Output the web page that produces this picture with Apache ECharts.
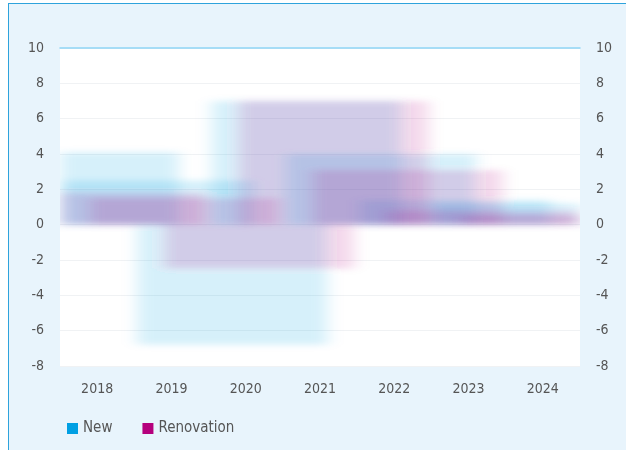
<!DOCTYPE html>
<html>
<head>
<meta charset="utf-8">
<script src="https://cdn.jsdelivr.net/npm/echarts@6/dist/echarts.min.js"></script>
<style>
  html, body { margin: 0; padding: 0; background: #fff; }
  #frame { position: absolute; left: 8px; top: 3px; width: 640px; height: 460px;
           background: #e8f4fc; border-left: 1px solid #2ea3dc; border-top: 1px solid #2ea3dc; }
  .layer { position: absolute; left: 0; top: 0; width: 626px; height: 450px; }
  /* bars are drawn softened, only inside the plot area */
  #bars { filter: url(#soft); clip-path: inset(48px 46px 84px 60px); }
</style>
</head>
<body>
<svg width="0" height="0" style="position:absolute">
  <filter id="soft" x="-10%" y="-10%" width="120%" height="120%">
    <feGaussianBlur stdDeviation="8 3"/>
  </filter>
</svg>
<div id="frame"></div>
<div id="main" class="layer"></div>
<div id="bars" class="layer"></div>
<script>
{
    // years on the x axis
    const years = ['2018', '2019', '2020', '2021', '2022', '2023', '2024'];
    // values
    const newValues = [4.1, 2.5, -6.8, 7.0, 4.0, 1.4, 1.2];
    const renovationValues = [1.8, 1.5, -2.5, 7.0, 3.1, 0.8, 0.5];

    const font = "'DejaVu Sans Condensed', 'Liberation Sans Narrow', sans-serif";
    const labelStyle = { color: '#555', fontSize: 14, fontFamily: font };
    const grid = { left: 60, right: 46, top: 48, bottom: 84 };

    // axes, grid and legend
    const axisChart = echarts.init(document.querySelector('#main'));
    axisChart.setOption({
        animation: false,
        grid: Object.assign({ show: true, backgroundColor: '#fff', borderWidth: 0 }, grid),
        legend: {
            left: 62, top: 416,
            icon: 'rect', itemWidth: 11, itemHeight: 11, itemGap: 30,
            textStyle: { color: '#555', fontSize: 15, fontFamily: font },
            data: [
                { name: 'New', itemStyle: { color: '#009fe3' } },
                { name: 'Renovation', itemStyle: { color: '#b5007d' } }
            ]
        },
        xAxis: [
            {
                type: 'category', data: years,
                axisLine: { show: false }, axisTick: { show: false },
                axisLabel: Object.assign({ margin: 16 }, labelStyle)
            },
            {
                type: 'category', data: years, position: 'top',
                axisLine: { show: true, onZero: false, lineStyle: { color: '#8fd5f5', width: 1.5 } },
                axisTick: { show: false }, axisLabel: { show: false }
            }
        ],
        yAxis: [
            {
                type: 'value', min: -8, max: 10, interval: 2,
                axisLabel: Object.assign({ margin: 16 }, labelStyle),
                splitLine: { lineStyle: { color: '#f0f2f4' } }
            },
            {
                type: 'value', min: -8, max: 10, interval: 2, position: 'right',
                axisLabel: Object.assign({ margin: 16 }, labelStyle),
                splitLine: { show: false }
            }
        ],
        // empty series so the legend has entries
        series: [
            { name: 'New', type: 'bar', data: [] },
            { name: 'Renovation', type: 'bar', data: [] }
        ]
    });

    // the bars, on a layer of their own
    const barChart = echarts.init(document.querySelector('#bars'));
    barChart.setOption({
        animation: false,
        grid: grid,
        xAxis: { type: 'category', data: years, show: false },
        yAxis: { type: 'value', min: -8, max: 10, interval: 2, show: false },
        series: [
            {
                name: 'New', type: 'bar', data: newValues,
                barWidth: 190, barGap: '-86%',
                itemStyle: { color: 'rgba(0,159,227,0.16)' }
            },
            {
                name: 'Renovation', type: 'bar', data: renovationValues,
                barWidth: 190,
                itemStyle: { color: 'rgba(181,0,125,0.15)' }
            }
        ]
    });
}
</script>
</body>
</html>
